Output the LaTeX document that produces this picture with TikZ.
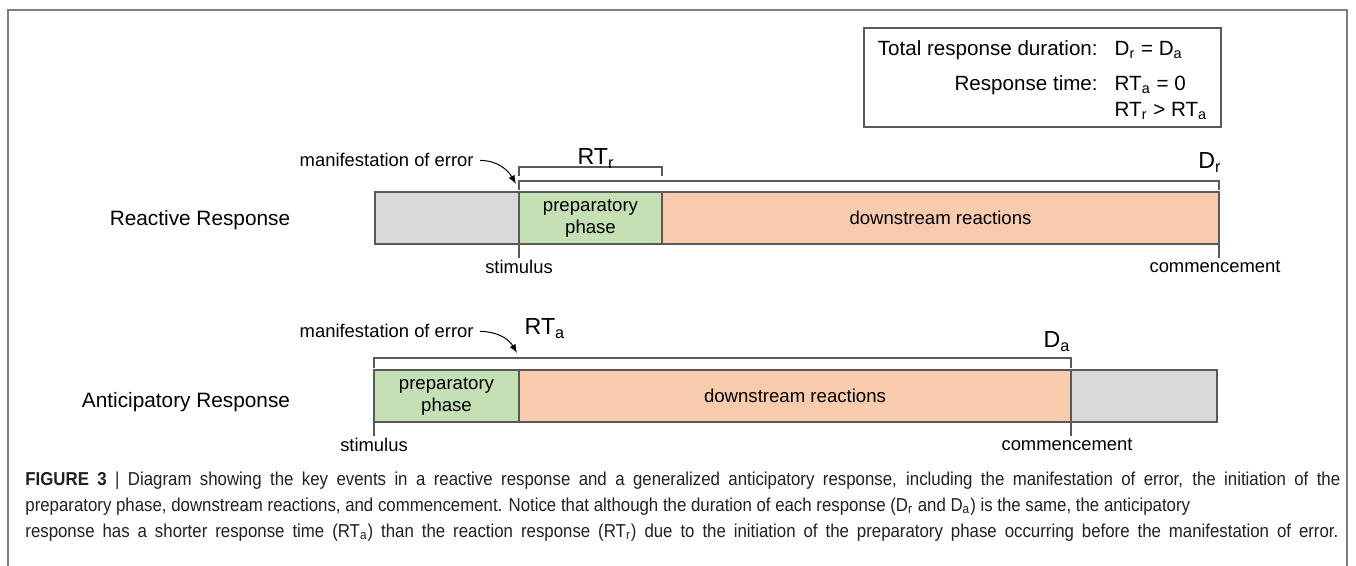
\documentclass[tikz,border=0pt]{standalone}
\usepackage{fontspec}
\setmainfont{Liberation Sans}
\newfontfamily\capfont[FakeStretch=0.9]{Liberation Sans}
\usepackage{tikz}
\usetikzlibrary{arrows,positioning,calc}
\definecolor{barline}{HTML}{595959}
\definecolor{idlegray}{HTML}{D9D9D9}
\definecolor{prepgreen}{HTML}{C5E0B4}
\definecolor{downorange}{HTML}{F8CBAD}
\definecolor{framegray}{HTML}{7F7F7F}
\definecolor{captext}{HTML}{231F20}

\begin{document}
\begin{tikzpicture}[x=0.5pt,y=-0.5pt]
\tikzstyle{seg} = [draw=barline, line width=1pt, minimum height=26pt, inner sep=0pt, outer sep=0pt, font=\fontsize{9.3}{11}\selectfont, align=center]
\tikzstyle{brk} = [draw=barline, line width=0.8pt]
\tikzstyle{tick} = [draw=barline, line width=0.8pt]
\tikzstyle{lbl} = [font=\fontsize{9.2}{11}\selectfont, inner sep=1pt]
\tikzstyle{rowname} = [font=\fontsize{10.4}{12}\selectfont]
\tikzstyle{big} = [font=\fontsize{11.6}{14}\selectfont, inner sep=0pt, anchor=base]
\tikzstyle{pointer} = [-latex, line width=0.5pt]
\tikzstyle{capline} = [font=\capfont\fontsize{9.35}{11}\selectfont, text=captext, inner sep=0pt, anchor=base west]

\useasboundingbox (0,0) rectangle (1356,566);
\draw[framegray, line width=0.8pt] (8,566) |- (1347,10) -- (1347,566);

% key
\node[draw=barline, line width=0.8pt, minimum width=178.5pt, minimum height=49.5pt] (key) at (1042.5,77.5) {};
\node[font=\fontsize{10.3}{12}\selectfont, inner sep=0pt] (keytext) at ([yshift=-2pt]key.center)
  {\begin{tabular}{@{}r@{\hspace{8.5pt}}l@{}}
   Total response duration: & D\textsubscript{r} = D\textsubscript{a}\\[5.5pt]
   Response time: & RT\textsubscript{a} = 0\\[1pt]
   & RT\textsubscript{r} > RT\textsubscript{a}
   \end{tabular}};

% reactive response
\node[rowname] (rname) at (200,220) {Reactive Response};
\node[seg, fill=idlegray, minimum width=72pt] (rwait) at (447,218) {};
\node[seg, fill=prepgreen, minimum width=71.5pt, right=0pt of rwait] (rprep) {preparatory\\phase};
\node[seg, fill=downorange, minimum width=278.5pt, right=0pt of rprep] (rdown) {downstream reactions};
\draw[brk] ($(rprep.north west)+(0,-16)$) -- ++(0,-9) -| ($(rprep.north east)+(0,-16)$);
\draw[brk] ($(rprep.north west)+(0,-2)$) -- ++(0,-9) -| ($(rdown.north east)+(0,-2)$);
\node[big] (rtr) at (596,165) {RT\textsubscript{r}};
\node[big] (dr) at (1210,169) {D\textsubscript{r}};
\node[lbl, anchor=base east] (rerr) at (476,167) {manifestation of error};
\coordinate (rerrtip) at (516,184);
\draw[pointer] ([xshift=2pt]rerr.east) to[out=0,in=120] (rerrtip);
\draw[tick] (rprep.south west) -- ++(0,14) coordinate (rstim);
\draw[tick] (rdown.south east) -- ++(0,14) coordinate (rcomm);
\node[lbl, below=0pt of rstim] (rstimtext) {stimulus};
\node[lbl, below=0pt of rcomm, xshift=-2pt] (rcommtext) {commencement};

% anticipatory response
\node[rowname] (aname) at (186,402) {Anticipatory Response};
\node[seg, fill=prepgreen, minimum width=72.5pt] (aprep) at (446.5,396) {preparatory\\phase};
\node[seg, fill=downorange, minimum width=276pt, right=0pt of aprep] (adown) {downstream reactions};
\node[seg, fill=idlegray, minimum width=73pt, right=0pt of adown] (await) {};
\draw[brk] ($(aprep.north west)+(0,-2)$) -- ++(0,-10) -| ($(adown.north east)+(0,-2)$);
\node[big] (rta) at (545,335) {RT\textsubscript{a}};
\node[big] (da) at (1057,348) {D\textsubscript{a}};
\node[lbl, anchor=base east] (aerr) at (476,338) {manifestation of error};
\coordinate (aerrtip) at (517,353);
\draw[pointer] ([xshift=2pt]aerr.east) to[out=0,in=120] (aerrtip);
\draw[tick] (aprep.south west) -- ++(0,14) coordinate (astim);
\draw[tick] (adown.south east) -- ++(0,14) coordinate (acomm);
\node[lbl, below=0pt of astim] (astimtext) {stimulus};
\node[lbl, below=0pt of acomm, xshift=-2pt] (acommtext) {commencement};

% caption
\node[capline] (cap1) at (25,486) {\makebox[657.5pt][s]{\textbf{FIGURE 3} | Diagram showing the key events in a reactive response and a generalized anticipatory response, including the manifestation of error, the initiation of the}};
\node[capline] (cap2) at (25,512) {preparatory phase, downstream reactions, and commencement. Notice that although the duration of each response (D\textsubscript{r} and D\textsubscript{a}) is the same, the anticipatory};
\node[capline] (cap3) at (25,538) {\makebox[656.5pt][s]{response has a shorter response time (RT\textsubscript{a}) than the reaction response (RT\textsubscript{r}) due to the initiation of the preparatory phase occurring before the manifestation of error.}};
\end{tikzpicture}
\end{document}
